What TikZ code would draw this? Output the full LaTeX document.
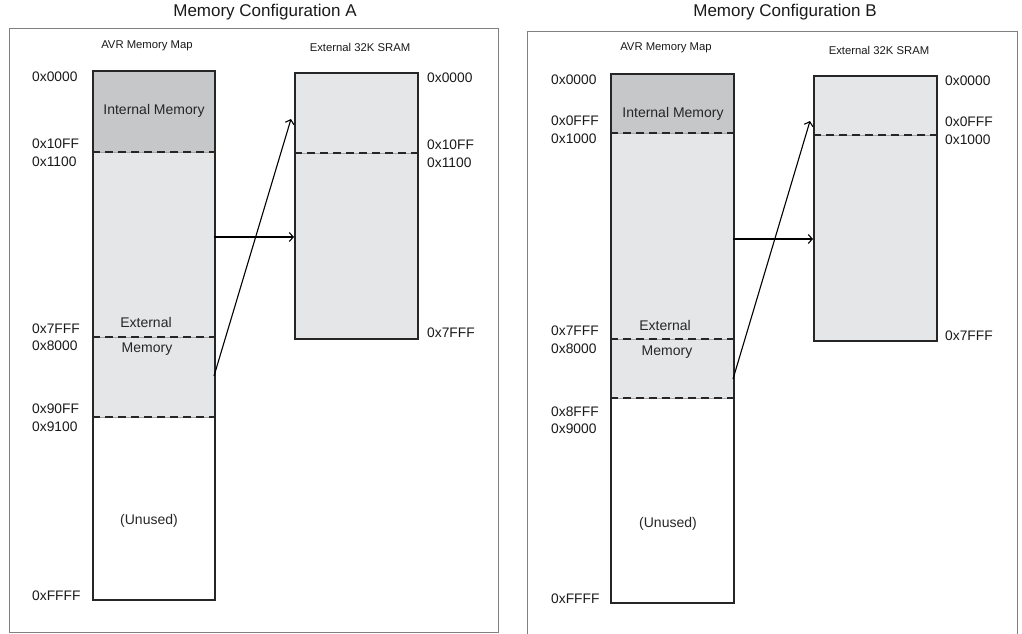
\documentclass[tikz,border=0pt]{standalone}
\usepackage{fontspec}
\setmainfont{Liberation Sans}
\usetikzlibrary{arrows.meta}
\definecolor{intgray}{HTML}{C6C7C9}
\definecolor{extgray}{HTML}{E5E6E8}
\definecolor{framegray}{HTML}{808080}
\tikzset{
 frame/.style={draw=framegray, line width=1pt},
 membox/.style={draw=black!85, line width=1.8pt, rectangle, inner sep=0pt},
 sepline/.style={draw=black!85, line width=1.3pt, dash pattern=on 8pt off 5pt},
 sepbase/.style={draw=black!35, line width=0.8pt},
 arr/.style={draw=black, line width=1.1pt, -{Straight Barb[length=4pt,width=9pt]}},
 hex/.style={font=\fontsize{13.8}{16}\selectfont, inner sep=0pt, text=black!90},
 lbl/.style={font=\fontsize{14}{16}\selectfont, inner sep=0pt, text=black!85},
 head/.style={font=\fontsize{11.3}{13}\selectfont, inner sep=0pt, text=black!90},
 ttl/.style={font=\fontsize{17}{20}\selectfont, inner sep=0pt, text=black!90},
}
\begin{document}
\begin{tikzpicture}[x=1pt,y=-1pt]
\useasboundingbox (0,0) rectangle (1022,634);
% ---------------- Panel A ----------------
\node[ttl] (titleA) at (265,12) {Memory Configuration A};
\draw[frame] (9,29) rectangle (498,632.5);
\node[head] (avrHeadA) at (147,46) {AVR Memory Map};
\node[head] (sramHeadA) at (360,47) {External 32K SRAM};
\fill[intgray] (92,70) rectangle (214,152);
\fill[extgray] (92,152) rectangle (214,417);
\fill[extgray] (294,72) rectangle (417,338);
\foreach \yy in {152,337,417} {
  \draw[sepbase] (92,\yy) -- (214,\yy);
  \draw[sepline] (92,\yy) -- (214,\yy);
}
\draw[sepbase] (294,153) -- (417,153);
\draw[sepline] (294,153) -- (417,153);
\node[membox, minimum width=122pt, minimum height=529pt, anchor=north west] (avrA) at (92,70) {};
\node[membox, minimum width=123pt, minimum height=266pt, anchor=north west] (sramA) at (294,72) {};
\node[lbl] (intA) at (154,111) {Internal Memory};
\node[lbl] (extA1) at (146,322) {External};
\node[lbl] (extA2) at (147,349) {Memory};
\node[lbl] (unA) at (149,521) {(Unused)};
\node[hex, anchor=west] (a1) at (32,77) {0x0000};
\node[hex, anchor=west] (a2) at (32,144) {0x10FF};
\node[hex, anchor=west] (a3) at (32,162) {0x1100};
\node[hex, anchor=west] (a4) at (32,329) {0x7FFF};
\node[hex, anchor=west] (a5) at (32,346) {0x8000};
\node[hex, anchor=west] (a6) at (32,409) {0x90FF};
\node[hex, anchor=west] (a7) at (32,427) {0x9100};
\node[hex, anchor=west] (a8) at (32,596) {0xFFFF};
\node[hex, anchor=west] (a9) at (427,78) {0x0000};
\node[hex, anchor=west] (a10) at (427,145) {0x10FF};
\node[hex, anchor=west] (a11) at (427,163) {0x1100};
\node[hex, anchor=west] (a12) at (427,333) {0x7FFF};
\coordinate (hA) at (214,237);
\draw[arr] (hA) -- (hA -| sramA.west);
\coordinate (dA) at (214,376);
\coordinate (dAend) at (291,119);
\draw[arr] (dA) -- (dAend);
% ---------------- Panel B ----------------
\node[ttl] (titleB) at (785,12) {Memory Configuration B};
\draw[frame] (527,640) -- (527,32) -- (1017,32) -- (1017,640);
\node[head] (avrHeadB) at (666,48) {AVR Memory Map};
\node[head] (sramHeadB) at (879,50) {External 32K SRAM};
\fill[intgray] (610,73) rectangle (733,133);
\fill[extgray] (610,133) rectangle (733,398);
\fill[extgray] (813,75) rectangle (936,340);
\foreach \yy in {133,339,398} {
  \draw[sepbase] (610,\yy) -- (733,\yy);
  \draw[sepline] (610,\yy) -- (733,\yy);
}
\draw[sepbase] (813,135) -- (936,135);
\draw[sepline] (813,135) -- (936,135);
\node[membox, minimum width=123pt, minimum height=529pt, anchor=north west] (avrB) at (610,73) {};
\node[membox, minimum width=123pt, minimum height=265pt, anchor=north west] (sramB) at (813,75) {};
\node[lbl] (intB) at (673,114) {Internal Memory};
\node[lbl] (extB1) at (665,325) {External};
\node[lbl] (extB2) at (667,352) {Memory};
\node[lbl] (unB) at (668,524) {(Unused)};
\node[hex, anchor=west] (b1) at (551,80) {0x0000};
\node[hex, anchor=west] (b2) at (551,121) {0x0FFF};
\node[hex, anchor=west] (b3) at (551,139) {0x1000};
\node[hex, anchor=west] (b4) at (551,331) {0x7FFF};
\node[hex, anchor=west] (b5) at (551,349) {0x8000};
\node[hex, anchor=west] (b6) at (551,412) {0x8FFF};
\node[hex, anchor=west] (b7) at (551,429) {0x9000};
\node[hex, anchor=west] (b8) at (551,599) {0xFFFF};
\node[hex, anchor=west] (b9) at (945,81) {0x0000};
\node[hex, anchor=west] (b10) at (945,122) {0x0FFF};
\node[hex, anchor=west] (b11) at (945,140) {0x1000};
\node[hex, anchor=west] (b12) at (945,336) {0x7FFF};
\coordinate (hB) at (733,239);
\draw[arr] (hB) -- (hB -| sramB.west);
\coordinate (dB) at (733,379);
\coordinate (dBend) at (810,121);
\draw[arr] (dB) -- (dBend);
\end{tikzpicture}
\end{document}
